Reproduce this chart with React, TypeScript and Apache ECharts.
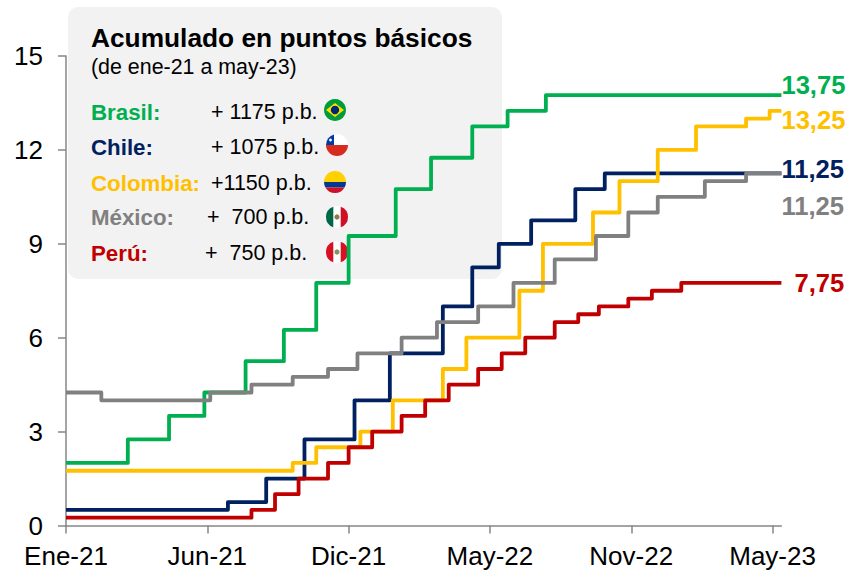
import React, { useEffect, useRef } from "react";
import * as echarts from "echarts";

const FONT = '"Liberation Sans", Arial, sans-serif';

const tickLabels = ["Ene-21", "Jun-21", "Dic-21", "May-22", "Nov-22", "May-23"];
const pointsPerTick = 48;
const pointCount = 244;

const brasilAt = [0, 21, 35, 47, 61, 74, 85, 96, 112, 124, 138, 150, 163];
const brasilLevels = [2, 2.75, 3.5, 4.25, 5.25, 6.25, 7.75, 9.25, 10.75, 11.75, 12.75, 13.25, 13.75];

const chileAt = [0, 55, 68, 81, 98, 110, 128, 138, 147, 158, 173, 183];
const chileLevels = [0.5, 0.75, 1.5, 2.75, 4, 5.5, 7, 8.25, 9, 9.75, 10.75, 11.25];

const colombiaAt = [0, 77, 85, 100, 111, 128, 136, 154, 162, 179, 188, 201, 214, 231, 239];
const colombiaLevels = [1.75, 2, 2.5, 3, 4, 5, 6, 7.5, 9, 10, 11, 12, 12.75, 13, 13.25];

const mexicoAt = [0, 12, 49, 63, 77, 89, 99, 114, 126, 140, 152, 166, 180, 191, 201, 217, 231];
const mexicoLevels = [4.25, 4, 4.25, 4.5, 4.75, 5, 5.5, 6, 6.5, 7, 7.75, 8.5, 9.25, 10, 10.5, 11, 11.25];

const peruAt = [0, 63, 71, 79, 89, 96, 104, 114, 122, 130, 140, 148, 156, 166, 174, 181, 191, 199, 209];
const peruLevels = [0.25, 0.5, 1, 1.5, 2, 2.5, 3, 3.5, 4, 4.5, 5, 5.5, 6, 6.5, 6.75, 7, 7.25, 7.5, 7.75];

const legendNames = ["Brasil:", "Chile:", "Colombia:", "México:", "Perú:"];
const legendTexts = ["+ 1175 p.b.", "+ 1075 p.b.", "+1150 p.b.", "+  700 p.b.", "+  750 p.b."];
const endLabels = ["13,75", "11,25", "13,25", "11,25", "7,75"];
const seriesNames = ["Brasil", "Chile", "Colombia", "México", "Perú"];
const colors = ["#00B050", "#002060", "#FFC000", "#808080", "#C00000"];

const R = 11;
const hb = (a: number, b: number) => {
  const xa = Math.sqrt(Math.max(0, R * R - a * a));
  const xb = Math.sqrt(Math.max(0, R * R - b * b));
  return `M${-xa} ${a} L${xa} ${a} A${R} ${R} 0 0 1 ${xb} ${b} L${-xb} ${b} A${R} ${R} 0 0 1 ${-xa} ${a} Z`;
};
const vb = (a: number, b: number) => {
  const ya = Math.sqrt(Math.max(0, R * R - a * a));
  const yb = Math.sqrt(Math.max(0, R * R - b * b));
  return `M${a} ${-ya} A${R} ${R} 0 0 1 ${b} ${-yb} L${b} ${yb} A${R} ${R} 0 0 1 ${a} ${ya} Z`;
};
const reg = (name: string, d: string) =>
  echarts.graphic.registerShape(name, echarts.graphic.extendPath(d, {}) as any);
reg("fTop", hb(-11, 0));
reg("fBlue", hb(0, 5.5));
reg("fBot", hb(5.5, 11));
reg("fHalf", hb(0, 11));
reg("fCanton", "M-3 0 L-11 0 A11 11 0 0 1 -3 -10.58 Z");
reg("fL", vb(-11, -3.7));
reg("fR", vb(3.7, 11));

const expand = (at: number[], levels: number[]) => {
  const out: number[] = [];
  let j = 0;
  for (let i = 0; i < pointCount; i++) {
    while (j + 1 < at.length && at[j + 1] <= i) j++;
    out.push(levels[j]);
  }
  return out;
};

const seriesData = [
  expand(brasilAt, brasilLevels),
  expand(chileAt, chileLevels),
  expand(colombiaAt, colombiaLevels),
  expand(mexicoAt, mexicoLevels),
  expand(peruAt, peruLevels),
];
const endOffsets = [[0, -10], [0, -4], [0, 9], [0, 33], [13, 0]];

const flag = (x: number, y: number, parts: any[]) => ({ type: "group", x, y, children: parts });
const shape = (type: string, fill: string) => ({ type, style: { fill } });
const flags = [
  flag(335, 110, [
    { type: "circle", shape: { cx: 0, cy: 0, r: R }, style: { fill: "#009B3A" } },
    { type: "polygon", shape: { points: [[-9, 0], [0, -7], [9, 0], [0, 7]] }, style: { fill: "#FEDF00" } },
    { type: "circle", shape: { cx: 0, cy: 0, r: 4.2 }, style: { fill: "#002776" } },
  ]),
  flag(337, 145, [
    { type: "circle", shape: { cx: 0, cy: 0, r: R }, style: { fill: "#FFFFFF" } },
    shape("fHalf", "#D72B1F"),
    shape("fCanton", "#0039A6"),
    { type: "circle", shape: { cx: -6.5, cy: -5, r: 1.4 }, style: { fill: "#FFFFFF" } },
  ]),
  flag(335, 182, [shape("fTop", "#FFD100"), shape("fBlue", "#003893"), shape("fBot", "#CE1126")]),
  flag(337, 217, [
    { type: "circle", shape: { cx: 0, cy: 0, r: R }, style: { fill: "#FFFFFF" } },
    shape("fL", "#006847"),
    shape("fR", "#CE1126"),
    { type: "circle", shape: { cx: 0, cy: 0, r: 2.6 }, style: { fill: "#8C7A4A" } },
  ]),
  flag(337, 252, [
    { type: "circle", shape: { cx: 0, cy: 0, r: R }, style: { fill: "#FFFFFF" } },
    shape("fL", "#D91023"),
    shape("fR", "#D91023"),
    { type: "circle", shape: { cx: 0, cy: 0, r: 2.6 }, style: { fill: "#7F9A5A" } },
  ]),
];

const rowY = [112, 147, 183, 217, 253];
const valueX = [211, 211, 211, 207, 205];

export default function App() {
  const ref = useRef<HTMLDivElement>(null);
  useEffect(() => {
    const chart = echarts.init(ref.current!, undefined, { renderer: "svg" });
    const txt = (x: number, y: number, text: string, fontSize: number, fill: string, fontWeight = "normal") => ({
      type: "text",
      x,
      y,
      style: { text, fontFamily: FONT, fontSize, fill, fontWeight, textVerticalAlign: "middle", textAlign: "left" },
    });
    chart.setOption({
      animation: false,
      backgroundColor: "#FFFFFF",
      textStyle: { fontFamily: FONT },
      grid: { left: 66, top: 56, width: 715.4, height: 469.5, containLabel: false },
      xAxis: {
        type: "category",
        boundaryGap: false,
        data: Array.from({ length: pointCount }, (_, i) =>
          i % pointsPerTick === 0 ? tickLabels[i / pointsPerTick] ?? "" : ""
        ),
        axisLine: { lineStyle: { color: "#868686", width: 1.5 } },
        axisTick: { show: true, interval: pointsPerTick - 1, length: 8, lineStyle: { color: "#868686", width: 1.5 } },
        axisLabel: { interval: pointsPerTick - 1, color: "#000", fontSize: 26, margin: 17, fontFamily: FONT, hideOverlap: false },
        splitLine: { show: false },
      },
      yAxis: {
        type: "value",
        min: 0,
        max: 15,
        interval: 3,
        axisLine: { show: true, lineStyle: { color: "#868686", width: 1.5 } },
        axisTick: { show: true, length: 8, lineStyle: { color: "#868686", width: 1.5 } },
        axisLabel: { color: "#000", fontSize: 26, margin: 23, fontFamily: FONT },
        splitLine: { show: false },
      },
      series: seriesNames.map((name, i) => ({
        name,
        type: "line",
        step: "end",
        data: seriesData[i],
        showSymbol: false,
        symbol: "none",
        clip: false,
        z: 3 + i,
        lineStyle: { color: colors[i], width: 3.8, join: "round" },
        endLabel: {
          show: true,
          formatter: endLabels[i],
          distance: 0,
          offset: endOffsets[i],
          color: colors[i],
          fontFamily: FONT,
          fontWeight: "bold",
          fontSize: 25.6,
        },
      })),
      graphic: {
        elements: [
          {
            type: "rect",
            z: -1,
            shape: { x: 68, y: 7, width: 434, height: 272, r: 10 },
            style: { fill: "#F2F2F2" },
          },
          { ...txt(91, 38, "Acumulado en puntos básicos", 26.3, "#000", "bold"), z: 1 },
          { ...txt(91, 67, "(de ene-21 a may-23)", 21.4, "#000"), z: 1 },
          ...legendNames.map((n, i) => ({ ...txt(91, rowY[i], n, 22.3, colors[i], "bold"), z: 1 })),
          ...legendTexts.map((t, i) => ({ ...txt(valueX[i], rowY[i], t, 21.5, "#000"), z: 1 })),
          ...flags.map((f) => ({ ...f, z: 1 })),
        ],
      },
    });
    return () => chart.dispose();
  }, []);
  return <div ref={ref} style={{ position: "absolute", left: 0, top: 0, width: 849, height: 570 }} />;
}
